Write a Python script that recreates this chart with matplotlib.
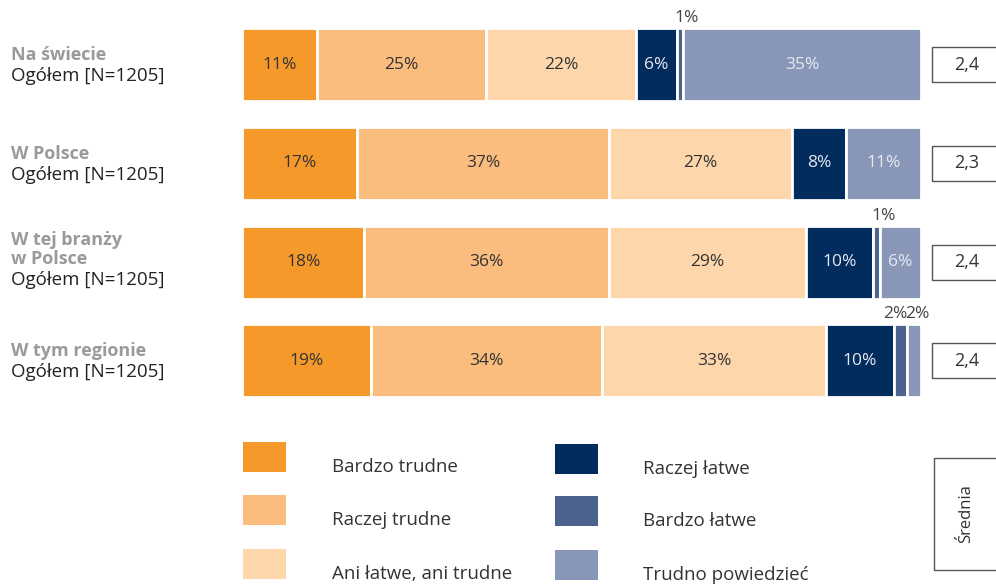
import matplotlib
matplotlib.use("Agg")
import matplotlib.pyplot as plt
from matplotlib.patches import Rectangle

plt.rcParams["font.family"] = ["Open Sans", "DejaVu Sans"]

# ---- data -------------------------------------------------------------
groups = ["Na świecie", "W Polsce", "W tej branży\nw Polsce", "W tym regionie"]
sample_labels = ["Ogółem [N=1205]"] * 4
categories = ["Bardzo trudne", "Raczej trudne", "Ani łatwe, ani trudne",
              "Raczej łatwe", "Bardzo łatwe", "Trudno powiedzieć"]
bardzo_trudne = [11, 17, 18, 19]
raczej_trudne = [25, 37, 36, 34]
ani_ani = [22, 27, 29, 33]
raczej_latwe = [6, 8, 10, 10]
bardzo_latwe = [1, 0, 1, 2]
trudno_powiedziec = [35, 11, 6, 2]
means = ["2,4", "2,3", "2,4", "2,4"]
mean_title = "Średnia"

series = [bardzo_trudne, raczej_trudne, ani_ani,
          raczej_latwe, bardzo_latwe, trudno_powiedziec]
colors = ["#F6992B", "#FABD7D", "#FDD7AB", "#032C5E", "#4C648D", "#8896B7"]
text_colors = ["#333333", "#333333", "#333333", "#E6E9F0", "#E6E9F0", "#E6E9F0"]

# ---- figure in pixel-based layout ------------------------------------
W, H = 996, 584
fig = plt.figure(figsize=(W / 100, H / 100), dpi=100)
fig.patch.set_facecolor("white")


def fx(x):
    return x / W


def fy(y):
    return 1 - y / H


# bar area
ax = fig.add_axes([fx(242), fy(420), 679 / W, 420 / H])
ax.set_xlim(0, 100)
ax.set_ylim(3.598, -0.653)
ax.axis("off")

bar_h = 0.74
SMALL = 2
for i in range(len(groups)):
    left = 0
    vals = [s[i] for s in series]
    for j, (v, col, tcol) in enumerate(zip(vals, colors, text_colors)):
        ax.barh(i, v, left=left, height=bar_h, color=col,
                edgecolor="white", linewidth=2)
        if v > SMALL:
            ax.text(left + v / 2, i, f"{v}%", ha="center", va="center",
                    color=tcol, fontsize=12.5)
        elif v > 0:
            nxt = vals[j + 1] if j + 1 < len(vals) else None
            if nxt is not None and 0 < nxt <= SMALL:
                x, ha = left + v, "right"
            else:
                x, ha = left - 0.3, "left"
            ax.text(x, i - bar_h / 2 - 0.02, f"{v}%", ha=ha, va="bottom",
                    color="#444444", fontsize=12.5)
        left += v

# bar centres in pixels (for side labels and mean boxes)
y0_px, step_px = 64.5, 98.8
for i, (g, s, m) in enumerate(zip(groups, sample_labels, means)):
    cy = y0_px + i * step_px
    lines = g.split("\n")
    sample_y = cy + 11.5 + 6 * (len(lines) - 1)
    fig.text(fx(11), fy(sample_y), s, ha="left", va="center",
             fontsize=13.5, color="#222222")
    for k, line in enumerate(reversed(lines)):
        fig.text(fx(11), fy(sample_y - 23 - 19 * k + 7), line, ha="left",
                 va="baseline", fontsize=13, fontweight="bold",
                 color="#9A9A9A")
    # mean value box
    fig.patches.append(Rectangle((fx(932), fy(cy + 17.5)), fx(80), 35 / H,
                                 transform=fig.transFigure, fill=False,
                                 edgecolor="#555555", linewidth=1.0))
    fig.text(fx(967), fy(cy), m, ha="center", va="center",
             fontsize=13, color="#333333")

# "Średnia" box
fig.patches.append(Rectangle((fx(934), fy(570)), fx(80), 112 / H,
                             transform=fig.transFigure, fill=False,
                             edgecolor="#555555", linewidth=1.0))
fig.text(fx(966), fy(514), mean_title, ha="center", va="center",
         rotation=90, fontsize=12, color="#333333")

# legend
sw_w, sw_h = 43, 30
col_x = [243, 555]
lab_x = [332, 643]
tops = [[442, 495, 549], [444, 496, 550]]
for idx, (cat, col) in enumerate(zip(categories, colors)):
    c, r = divmod(idx, 3)
    top = tops[c][r]
    fig.patches.append(Rectangle((fx(col_x[c]), fy(top + sw_h)), sw_w / W,
                                 sw_h / H, transform=fig.transFigure,
                                 facecolor=col, edgecolor="none"))
    fig.text(fx(lab_x[c]), fy(top + 25), cat, ha="left", va="center",
             fontsize=13.5, color="#333333")

fig.savefig("out.png", dpi=100)
